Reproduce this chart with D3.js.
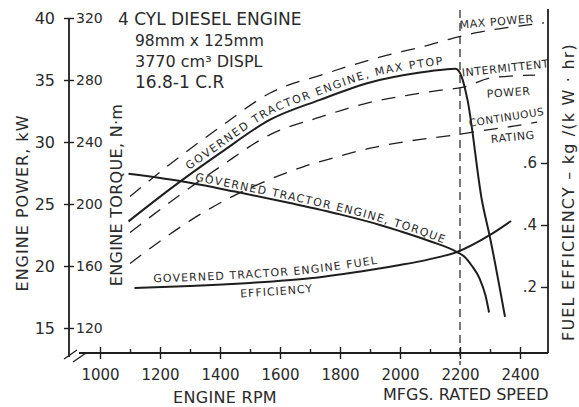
<!DOCTYPE html>
<html>
<head>
<meta charset="utf-8">
<script src="https://cdn.jsdelivr.net/npm/d3@7"></script>
<style>
  body { margin: 0; background: #fff; }
  text { font-family: "DejaVu Sans", sans-serif; fill: #2a2a2a; }
</style>
</head>
<body>
<script>
// values
const rpmTicks = [1000, 1200, 1400, 1600, 1800, 2000, 2200, 2400];
const rpmMinor = [1100, 1300, 1500, 1700, 1900, 2100, 2300];
const kwTicks = [15, 20, 25, 30, 35, 40];
const nmTicks = [120, 160, 200, 240, 280, 320];
const fuelTicks = [0.2, 0.4, 0.6];
const ratedRpm = 2200;

// governed tractor engine, max PTO power (kW)
const powerRpm = [1095, 1250, 1400, 1567, 1733, 1900, 2067, 2150, 2185, 2205, 2225, 2273, 2300, 2350];
const powerKw  = [23.6, 26.5, 29.1, 31.8, 33.4, 34.8, 35.6, 35.85, 35.9, 35.3, 33.4, 25.3, 22.3, 15.9];

// governed tractor engine, torque (N·m)
const torqueRpm = [1095, 1267, 1450, 1633, 1800, 1933, 2000, 2100, 2190, 2215, 2240, 2265, 2285, 2297];
const torqueNm  = [219.5, 214.8, 208, 200.6, 193.3, 186.5, 182.5, 176, 169, 166, 160, 152, 141, 130];

// fuel efficiency kg/(kW·hr)
const fuelRpm = [1115, 1300, 1500, 1700, 1900, 2000, 2100, 2190, 2300, 2370];
const fuelVal = [0.197, 0.203, 0.213, 0.228, 0.255, 0.271, 0.290, 0.313, 0.368, 0.413];

// engine ratings (kW), dashed
const maxRpm = [1100, 1217, 1400, 1567, 1750, 1933, 2077, 2167, 2250, 2350, 2480];
const maxKw  = [25.6, 27.9, 31.2, 33.95, 35.5, 36.85, 37.7, 38.3, 38.8, 39.2, 39.6];
const intRpm = [1100, 1267, 1400, 1567, 1733, 1900, 2033, 2143, 2207, 2310, 2450];
const intKw  = [22.7, 25.75, 28.0, 30.6, 32.0, 33.2, 33.8, 34.2, 34.4, 35.2, 35.4];
const contRpm = [1100, 1200, 1343, 1433, 1567, 1677, 1790, 1900, 2010, 2190, 2257, 2410, 2457];
const contKw  = [20.2, 22.0, 24.3, 25.5, 27.0, 28.0, 28.8, 29.5, 30.0, 30.6, 30.85, 31.4, 31.6];

const width = 579, height = 407;
const axisY = 353, leftX = 69, rightX = 548;
const ink = "#1e1e1e";

const x = d3.scaleLinear().domain([1000, 2400]).range([100, 520]);
const yPow = d3.scaleLinear().domain([15, 40]).range([328, 18]);
const yTorque = d3.scaleLinear().domain([120, 320]).range([328, 18]);
const yFuel = d3.scaleLinear().domain([0.2, 0.6]).range([287, 163]);

function pts(xs, ys) {
    return xs.map((v, i) => ({ x: v, y: ys[i] }));
}

function lineFor(yScale, shift) {
    return d3.line()
        .x(d => x(d.x))
        .y(d => yScale(d.y) + (shift || 0))
        .curve(d3.curveMonotoneX);
}

const svg = d3.select("body")
    .append("svg")
    .attr("width", width)
    .attr("height", height);

svg.append("rect").attr("width", width).attr("height", height).attr("fill", "#fff");
const defs = svg.append("defs");

// ---- axes ----
function styleAxis(g) {
    g.select(".domain").remove();
    g.selectAll("line").attr("stroke", ink).attr("stroke-width", 1.4);
    g.selectAll("text").attr("fill", "#2a2a2a").style("font-family", "DejaVu Sans, sans-serif");
}

// left: power + torque on the same line
svg.append("line")
    .attr("x1", leftX).attr("x2", leftX)
    .attr("y1", yPow(40)).attr("y2", axisY + 4)
    .attr("stroke", ink).attr("stroke-width", 1.8);

svg.append("g")
    .attr("transform", `translate(${leftX},0)`)
    .call(d3.axisLeft(yPow).tickValues(kwTicks).tickSize(5).tickPadding(9))
    .call(styleAxis)
    .selectAll("text").attr("font-size", 16);

svg.append("g")
    .attr("transform", `translate(${leftX},0)`)
    .call(d3.axisRight(yTorque).tickValues(nmTicks).tickSize(5).tickPadding(2))
    .call(styleAxis)
    .selectAll("text").attr("font-size", 14);

// bottom rpm axis
svg.append("line")
    .attr("x1", x(930)).attr("x2", rightX)
    .attr("y1", axisY).attr("y2", axisY)
    .attr("stroke", ink).attr("stroke-width", 1.8);

svg.append("g")
    .attr("transform", `translate(0,${axisY})`)
    .call(d3.axisBottom(x).tickValues(rpmTicks).tickSize(6).tickPadding(10).tickFormat(d3.format("d")))
    .call(styleAxis)
    .selectAll("text").attr("font-size", 15);

svg.append("g")
    .attr("transform", `translate(0,${axisY})`)
    .call(d3.axisTop(x).tickValues(rpmTicks).tickSize(6).tickFormat(""))
    .call(styleAxis);

svg.append("g")
    .attr("transform", `translate(0,${axisY})`)
    .call(d3.axisTop(x).tickValues(rpmMinor).tickSize(4).tickFormat(""))
    .call(styleAxis);

// axis break marks
[[0, 0], [9, 3]].forEach(([dx, dy]) => {
    svg.append("line")
        .attr("x1", leftX - 5 + dx).attr("y1", axisY + 6 + dy)
        .attr("x2", leftX + 8 + dx).attr("y2", axisY - 3 + dy)
        .attr("stroke", ink).attr("stroke-width", 1.3);
});

// right fuel axis
svg.append("line")
    .attr("x1", rightX).attr("x2", rightX)
    .attr("y1", 9).attr("y2", axisY)
    .attr("stroke", ink).attr("stroke-width", 1.8);

svg.append("g")
    .attr("transform", `translate(${rightX},0)`)
    .call(d3.axisLeft(yFuel).tickValues(fuelTicks).tickSize(7).tickPadding(4)
        .tickFormat(d => d3.format(".1f")(d).replace("0.", ".")))
    .call(styleAxis)
    .selectAll("text").attr("font-size", 15);

// rated speed marker
svg.append("line")
    .attr("x1", x(ratedRpm)).attr("x2", x(ratedRpm))
    .attr("y1", 10).attr("y2", axisY + 12)
    .attr("stroke", ink).attr("stroke-width", 1.2)
    .attr("stroke-dasharray", "8,5");

// ---- curves ----
const power = pts(powerRpm, powerKw);
const torque = pts(torqueRpm, torqueNm);
const fuel = pts(fuelRpm, fuelVal);

[[maxRpm, maxKw], [intRpm, intKw], [contRpm, contKw]].forEach(([r, k]) => {
    svg.append("path")
        .attr("d", lineFor(yPow)(pts(r, k)))
        .attr("fill", "none")
        .attr("stroke", ink)
        .attr("stroke-width", 1.3)
        .attr("stroke-dasharray", "14,10");
});

svg.append("path").attr("d", lineFor(yPow)(power))
    .attr("fill", "none").attr("stroke", ink).attr("stroke-width", 2);
svg.append("path").attr("d", lineFor(yTorque)(torque))
    .attr("fill", "none").attr("stroke", ink).attr("stroke-width", 2);
svg.append("path").attr("d", lineFor(yFuel)(fuel))
    .attr("fill", "none").attr("stroke", ink).attr("stroke-width", 2);

// ---- curve labels ----
function pathLabel(id, d, txt, offset, size, spacing) {
    defs.append("path").attr("id", id).attr("d", d);
    svg.append("text")
        .attr("font-size", size)
        .attr("letter-spacing", spacing)
        .append("textPath")
        .attr("href", "#" + id)
        .attr("startOffset", offset)
        .text(txt);
}

pathLabel("ptop", lineFor(yPow, -5)(power.filter(d => d.x <= 2185)),
    "GOVERNED TRACTOR ENGINE, MAX PTOP", 76, 11, 1.6);
pathLabel("torq", lineFor(yTorque, -3)(torque.filter(d => d.x <= 2190)),
    "GOVERNED TRACTOR ENGINE,  TORQUE", 67, 11, 1.3);
pathLabel("fuel", lineFor(yFuel, -5)(fuel),
    "GOVERNED TRACTOR ENGINE FUEL", 19, 11, 1.1);
pathLabel("eff", lineFor(yFuel, 14)(fuel),
    "EFFICIENCY", 106, 11, 1.0);

function tiltLabel(txt, rpm, kw, angle, size, spacing) {
    svg.append("text")
        .attr("transform", `translate(${x(rpm)},${yPow(kw)}) rotate(${angle})`)
        .attr("text-anchor", "middle")
        .attr("font-size", size)
        .attr("letter-spacing", spacing)
        .text(txt);
}

tiltLabel("MAX POWER", 2323, 39.4, -5, 11, 0.6);
tiltLabel("INTERMITTENT", 2353, 35.65, -6, 11, 0.6);
tiltLabel("POWER", 2363, 33.7, -4, 11, 0.6);
tiltLabel("CONTINUOUS", 2357, 31.7, -9, 10.5, 0.5);
tiltLabel("RATING", 2377, 30.1, -6, 11, 0.6);

// ---- axis titles ----
svg.append("text")
    .attr("transform", "translate(28,203) rotate(-90)")
    .attr("text-anchor", "middle").attr("font-size", 16).attr("letter-spacing", 1)
    .text("ENGINE POWER,  kW");

svg.append("text")
    .attr("transform", "translate(122,195) rotate(-90)")
    .attr("text-anchor", "middle").attr("font-size", 16).attr("letter-spacing", 0.3)
    .text("ENGINE TORQUE, N·m");

svg.append("text")
    .attr("transform", "translate(574,192) rotate(-90)")
    .attr("text-anchor", "middle").attr("font-size", 16).attr("letter-spacing", 1.2)
    .text("FUEL EFFICIENCY – kg /(k W · hr)");

svg.append("text")
    .attr("x", 173).attr("y", 403).attr("font-size", 16).attr("letter-spacing", 0.3)
    .text("ENGINE RPM");

svg.append("text")
    .attr("x", 383).attr("y", 400).attr("font-size", 16)
    .text("MFGS.  RATED SPEED");

// ---- engine spec block ----
const spec = svg.append("g");
spec.append("text").attr("x", 118).attr("y", 25).attr("font-size", 17)
    .text("4 CYL DIESEL ENGINE");

spec.append("text").attr("x", 135).attr("y", 46).attr("font-size", 15.5)
    .text("98mm x 125mm");

spec.append("text").attr("x", 135).attr("y", 67).attr("font-size", 16)
    .text("3770 cm³ DISPL");

spec.append("text").attr("x", 135).attr("y", 88).attr("font-size", 17)
    .text("16.8-1 C.R");
</script>
</body>
</html>
